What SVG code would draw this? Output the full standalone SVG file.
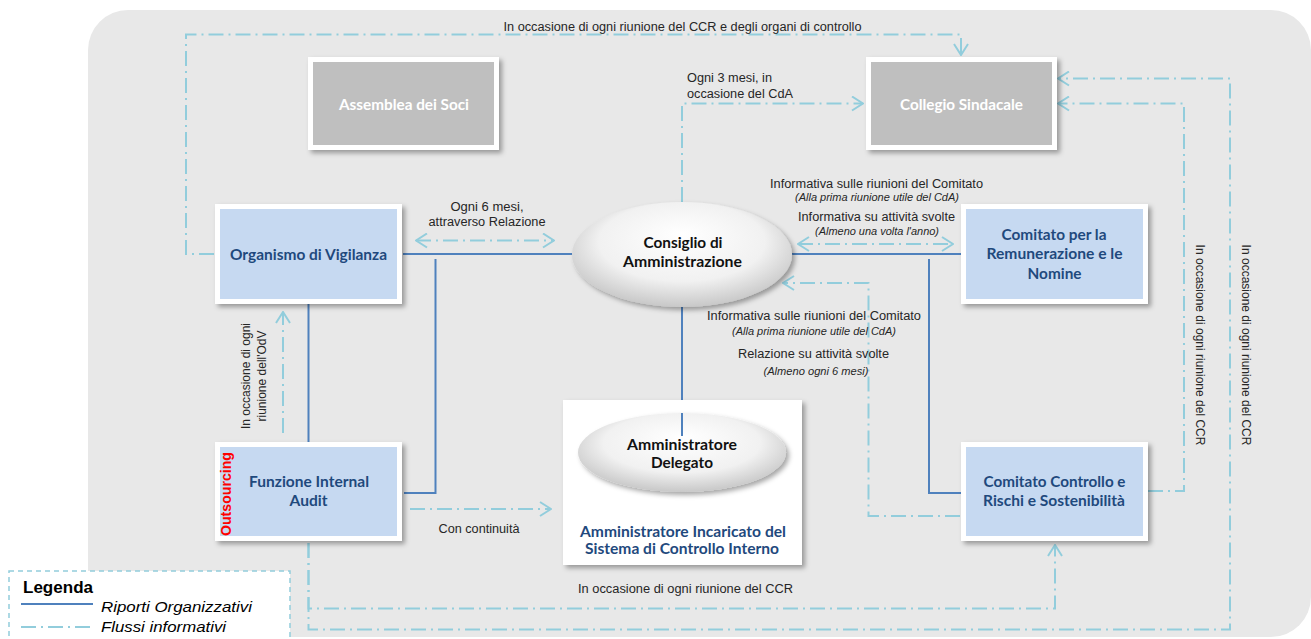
<svg xmlns="http://www.w3.org/2000/svg" width="1311" height="639" viewBox="0 0 1311 639">
<style>
.bx{font-family:Lato,'Open Sans',sans-serif;font-weight:700;font-size:15px;text-anchor:middle}
.blue{fill:#1f497d}
.wht{fill:#ffffff}
.blk{fill:#111111}
.lb{font-family:'Liberation Sans',Arial,sans-serif;font-size:12px;fill:#262626;text-anchor:middle}
.it{font-style:italic;font-size:10px}
.lt{text-anchor:start}
.solid{fill:none;stroke:#4f81bd;stroke-width:2}
.flow{fill:none;stroke:#92cddc;stroke-width:2;stroke-dasharray:15 5 2 5}
.frame{fill:#ffffff;filter:url(#sh)}
</style>
<defs>
<filter id="sh" x="-10%" y="-10%" width="130%" height="130%">
<feDropShadow dx="3" dy="3" stdDeviation="2.5" flood-color="#000" flood-opacity="0.35"/>
</filter>
<radialGradient id="eg" cx="0.5" cy="0.42" r="0.58" fx="0.5" fy="0.3">
<stop offset="0" stop-color="#ffffff"/>
<stop offset="0.65" stop-color="#f1f1f1"/>
<stop offset="1" stop-color="#c8c8c8"/>
</radialGradient>
<marker id="ah" viewBox="0 0 13 16" refX="12" refY="8" markerWidth="13" markerHeight="16" markerUnits="userSpaceOnUse" orient="auto-start-reverse">
<path d="M1,1 L12,8 L1,15" fill="none" stroke="#92cddc" stroke-width="2"/>
</marker>
</defs>

<rect id="background" x="88" y="10" width="1223" height="627" rx="40" ry="40" fill="#e8e8e8"/>

<g id="connectors">
<path class="solid" d="M403 254 H572"/>
<path class="solid" d="M435.5 259 V493 H404"/>
<path class="solid" d="M308.5 304 V442"/>
<path class="solid" d="M792 254 H961"/>
<path class="solid" d="M929 259 V493 H961"/>
<path class="solid" d="M682 307 V436"/>

<path class="flow" d="M214 254 H186 V34.5 H961 V55" marker-end="url(#ah)"/>
<path class="flow" d="M682 202 V103.5 H863" marker-end="url(#ah)"/>
<path class="flow" d="M416 240.5 H554" marker-start="url(#ah)" marker-end="url(#ah)"/>
<path class="flow" d="M798 244 H953" marker-start="url(#ah)" marker-end="url(#ah)"/>
<path class="flow" d="M960 516 H868.5 V283 H783" marker-end="url(#ah)"/>
<path class="flow" d="M283 433 V312" marker-end="url(#ah)"/>
<path class="flow" d="M410 509 H551" marker-end="url(#ah)"/>
<path class="flow" d="M308.5 516 V608.5 H1055 V545" marker-end="url(#ah)"/>
<path class="flow" d="M308.5 516 V629.5 H1230 V78.5 H1058" marker-end="url(#ah)"/>
<path class="flow" d="M1148 491 H1184 V103.5 H1058" marker-end="url(#ah)"/>

<text class="lb" x="682.5" y="31" textLength="358" lengthAdjust="spacingAndGlyphs">In occasione di ogni riunione del CCR e degli organi di controllo</text>
<text class="lb lt" x="687" y="82" textLength="85" lengthAdjust="spacingAndGlyphs">Ogni 3 mesi, in</text>
<text class="lb lt" x="687" y="98" textLength="106" lengthAdjust="spacingAndGlyphs">occasione del CdA</text>
<text class="lb" x="487" y="211" textLength="73" lengthAdjust="spacingAndGlyphs">Ogni 6 mesi,</text>
<text class="lb" x="487" y="226" textLength="117" lengthAdjust="spacingAndGlyphs">attraverso Relazione</text>
<text class="lb" x="876.5" y="188" textLength="213" lengthAdjust="spacingAndGlyphs">Informativa sulle riunioni del Comitato</text>
<text class="lb it" x="877" y="201" textLength="164" lengthAdjust="spacingAndGlyphs">(Alla prima riunione utile del CdA)</text>
<text class="lb" x="876.5" y="221" textLength="157" lengthAdjust="spacingAndGlyphs">Informativa su attività svolte</text>
<text class="lb it" x="877" y="235" textLength="124" lengthAdjust="spacingAndGlyphs">(Almeno una volta l'anno)</text>
<text class="lb" x="814" y="320" textLength="214" lengthAdjust="spacingAndGlyphs">Informativa sulle riunioni del Comitato</text>
<text class="lb it" x="814" y="335" textLength="164" lengthAdjust="spacingAndGlyphs">(Alla prima riunione utile del CdA)</text>
<text class="lb" x="813.5" y="358" textLength="151" lengthAdjust="spacingAndGlyphs">Relazione su attività svolte</text>
<text class="lb it" x="816" y="375" textLength="105" lengthAdjust="spacingAndGlyphs">(Almeno ogni 6 mesi)</text>
<text class="lb" x="479" y="533" textLength="81" lengthAdjust="spacingAndGlyphs">Con continuità</text>
<text class="lb" x="685.5" y="593" textLength="215" lengthAdjust="spacingAndGlyphs">In occasione di ogni riunione del CCR</text>
<text class="lb" transform="translate(250,376) rotate(-90)">In occasione di ogni</text>
<text class="lb" transform="translate(266,376) rotate(-90)">riunione dell'OdV</text>
<text class="lb" transform="translate(1196,345) rotate(90)">In occasione di ogni riunione del CCR</text>
<text class="lb" transform="translate(1242,345) rotate(90)">In occasione di ogni riunione del CCR</text>
</g>

<g id="assemblea">
<rect class="frame" x="308" y="57" width="191" height="93"/>
<rect x="313" y="62" width="181" height="83" fill="#bfbfbf"/>
<text class="bx wht" x="404" y="110" textLength="130" lengthAdjust="spacingAndGlyphs">Assemblea dei Soci</text>
</g>

<g id="collegio">
<rect class="frame" x="866" y="57" width="191" height="93"/>
<rect x="871" y="62" width="181" height="83" fill="#bfbfbf"/>
<text class="bx wht" x="961.5" y="110" textLength="123" lengthAdjust="spacingAndGlyphs">Collegio Sindacale</text>
</g>

<g id="odv">
<rect class="frame" x="215" y="204" width="187" height="100"/>
<rect x="220" y="209" width="177" height="90" fill="#c6d9f1"/>
<text class="bx blue" x="308.5" y="260" textLength="157" lengthAdjust="spacingAndGlyphs">Organismo di Vigilanza</text>
</g>

<g id="remunerazione">
<rect class="frame" x="961" y="204" width="187" height="100"/>
<rect x="966" y="209" width="177" height="90" fill="#c6d9f1"/>
<text class="bx blue" x="1054" y="240" textLength="105" lengthAdjust="spacingAndGlyphs">Comitato per la</text>
<text class="bx blue" x="1054.5" y="259" textLength="136" lengthAdjust="spacingAndGlyphs">Remunerazione e le</text>
<text class="bx blue" x="1054.5" y="279" textLength="54" lengthAdjust="spacingAndGlyphs">Nomine</text>
</g>

<g id="internal-audit">
<rect class="frame" x="215" y="442" width="187" height="99"/>
<rect x="220" y="447" width="177" height="89" fill="#c6d9f1"/>
<text class="bx blue" x="309" y="487" textLength="120" lengthAdjust="spacingAndGlyphs">Funzione Internal</text>
<text class="bx blue" x="308.5" y="506" textLength="38" lengthAdjust="spacingAndGlyphs">Audit</text>
<text transform="translate(231,494) rotate(-90)" font-family="'Liberation Sans',Arial,sans-serif" font-weight="700" font-size="14" fill="#ff0000" text-anchor="middle" textLength="84" lengthAdjust="spacingAndGlyphs">Outsourcing</text>
</g>

<g id="ccrs">
<rect class="frame" x="961" y="442" width="187" height="99"/>
<rect x="966" y="447" width="177" height="89" fill="#c6d9f1"/>
<text class="bx blue" x="1054.5" y="487" textLength="142" lengthAdjust="spacingAndGlyphs">Comitato Controllo e</text>
<text class="bx blue" x="1054" y="506" textLength="142" lengthAdjust="spacingAndGlyphs">Rischi e Sostenibilità</text>
</g>

<g id="cda">
<ellipse cx="682" cy="254.5" rx="110" ry="52.5" fill="url(#eg)" filter="url(#sh)"/>
<text class="bx blk" x="683" y="248" textLength="79" lengthAdjust="spacingAndGlyphs">Consiglio di</text>
<text class="bx blk" x="682.5" y="267" textLength="119" lengthAdjust="spacingAndGlyphs">Amministrazione</text>
</g>

<g id="aicsci">
<rect class="frame" x="563" y="400" width="239" height="165"/>
<text class="bx blue" x="683" y="537" textLength="206" lengthAdjust="spacingAndGlyphs">Amministratore Incaricato del</text>
<text class="bx blue" x="682" y="554" textLength="194" lengthAdjust="spacingAndGlyphs">Sistema di Controllo Interno</text>
</g>

<g id="ad">
<ellipse cx="682" cy="452.5" rx="104" ry="39.5" fill="url(#eg)" filter="url(#sh)"/>
<path class="solid" d="M682 413 V436"/>
<text class="bx blk" x="682" y="450" textLength="110" lengthAdjust="spacingAndGlyphs">Amministratore</text>
<text class="bx blk" x="682" y="468" textLength="62" lengthAdjust="spacingAndGlyphs">Delegato</text>
</g>

<g id="legend">
<rect x="9" y="571" width="281" height="80" fill="#ffffff" stroke="#92cddc" stroke-width="1.5" stroke-dasharray="5 4"/>
<text x="23" y="593" font-family="'Liberation Sans',Arial,sans-serif" font-weight="700" font-size="16" fill="#000" textLength="70" lengthAdjust="spacingAndGlyphs">Legenda</text>
<path class="solid" d="M21 604 H93"/>
<text x="101" y="612" font-family="'Liberation Sans',Arial,sans-serif" font-style="italic" font-size="15" fill="#000" textLength="151" lengthAdjust="spacingAndGlyphs">Riporti Organizzativi</text>
<path class="flow" d="M21 627 H93"/>
<text x="101" y="632" font-family="'Liberation Sans',Arial,sans-serif" font-style="italic" font-size="15" fill="#000" textLength="125" lengthAdjust="spacingAndGlyphs">Flussi informativi</text>
</g>
</svg>
